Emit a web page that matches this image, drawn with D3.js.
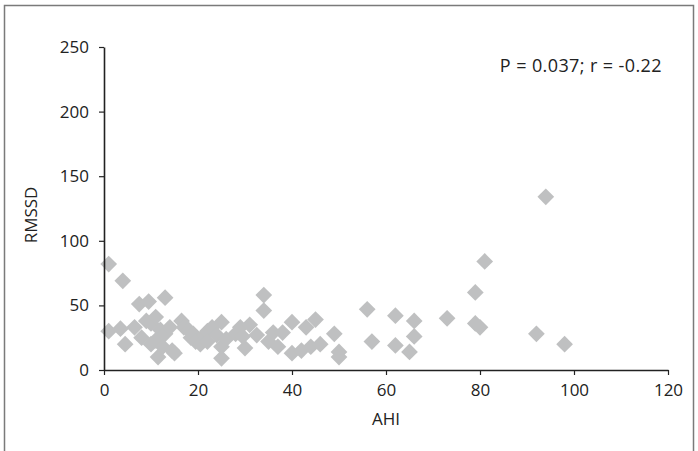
<!DOCTYPE html>
<html>
<head>
<meta charset="utf-8">
<script src="https://cdn.jsdelivr.net/npm/d3@7"></script>
<style>
  body { margin: 0; background: #fff; }
  svg { display: block; font-family: "Open Sans", "Noto Sans", sans-serif; }
</style>
</head>
<body>
<div id="chart"></div>
<script>
// AHI values (x) and RMSSD values (y)
const ahi = [1, 1, 3.5, 4, 4.5, 6.5, 7.5, 9.5, 13,
    8, 9, 10, 10, 11, 11, 11.5, 12, 12.5, 13, 14, 14.5, 15, 16.5, 17, 18, 18.5, 19, 19.5,
    20.5, 21.5, 22, 22, 23, 24, 25, 25, 25, 26, 28, 29, 29.5, 30, 31, 32.5,
    34, 34, 35, 36, 37, 38, 40, 40, 42, 43, 44, 45, 46, 49, 50, 50,
    56, 57, 62, 62, 65, 66, 66, 73, 79, 79, 80, 81, 92, 94, 98];
const rmssd = [82, 30, 32, 69, 20, 33, 51, 53, 56,
    25, 38, 36, 20, 41, 23, 10, 31, 18, 28, 33, 15, 13, 38, 33, 31, 25, 28, 22,
    20, 27, 30, 22, 33, 27, 37, 18, 9, 24, 28, 33, 26, 17, 35, 27,
    58, 46, 22, 29, 18, 29, 37, 13, 15, 33, 18, 39, 20, 28, 14, 10,
    47, 22, 42, 19, 14, 38, 26, 40, 60, 36, 33, 84, 28, 134, 20];
const xTicks = [0, 20, 40, 60, 80, 100, 120];
const yTicks = [0, 50, 100, 150, 200, 250];
const statsLabel = "P = 0.037; r = -0.22";

const data = ahi.map((a, i) => ({x: a, y: rmssd[i]}));

const W = 698, H = 451;
const margin = {top: 47, right: 30, bottom: 81, left: 104};
const width = W - margin.left - margin.right;
const height = H - margin.top - margin.bottom;
const fontSize = "17px";

const svg = d3.select("#chart").append("svg")
    .attr("width", W)
    .attr("height", H);

// outer frame
svg.append("rect")
    .attr("x", 4.5)
    .attr("y", 5.5)
    .attr("width", 689)
    .attr("height", 460)
    .attr("fill", "none")
    .attr("stroke", "#7a7a7a")
    .attr("stroke-width", 1.5);

const g = svg.append("g")
    .attr("transform", `translate(${margin.left},${margin.top})`);

const x = d3.scaleLinear().domain([0, 120]).range([0, width]);
const y = d3.scaleLinear().domain([0, 250]).range([height, 0]);

// points first, axes drawn on top
const diamond = d3.symbol().type(d3.symbolSquare).size(140);
g.selectAll(".pt")
    .data(data)
    .enter()
    .append("path")
    .attr("class", "pt")
    .attr("d", diamond)
    .attr("transform", d => `translate(${x(d.x)},${y(d.y)}) rotate(45)`)
    .attr("fill", "#bfc0c1");

const xAxis = g.append("g")
    .attr("transform", `translate(0,${height})`)
    .call(d3.axisBottom(x).tickValues(xTicks).tickSize(5).tickSizeOuter(0).tickPadding(9));

const yAxis = g.append("g")
    .call(d3.axisLeft(y).tickValues(yTicks).tickSize(5).tickSizeOuter(0).tickPadding(10));

[xAxis, yAxis].forEach(a => {
    a.select(".domain").attr("stroke", "#222").attr("stroke-width", 1.6);
    a.selectAll(".tick line").attr("stroke", "#222").attr("stroke-width", 1.2);
    a.selectAll(".tick text")
        .attr("fill", "#222")
        .style("font-size", fontSize)
        .style("font-family", "'Open Sans', 'Noto Sans', sans-serif");
});

// axis titles
svg.append("text")
    .attr("x", margin.left + x(60))
    .attr("y", 425)
    .attr("text-anchor", "middle")
    .attr("fill", "#222")
    .style("font-size", fontSize)
    .text("AHI");

svg.append("text")
    .attr("transform", `translate(37,${margin.top + y(120)}) rotate(-90)`)
    .attr("text-anchor", "middle")
    .attr("fill", "#222")
    .style("font-size", fontSize)
    .text("RMSSD");

// stats annotation
svg.append("text")
    .attr("x", 662)
    .attr("y", 72)
    .attr("text-anchor", "end")
    .attr("fill", "#222")
    .style("font-size", "18px")
    .style("letter-spacing", "0.4px")
    .text(statsLabel);
</script>
</body>
</html>
